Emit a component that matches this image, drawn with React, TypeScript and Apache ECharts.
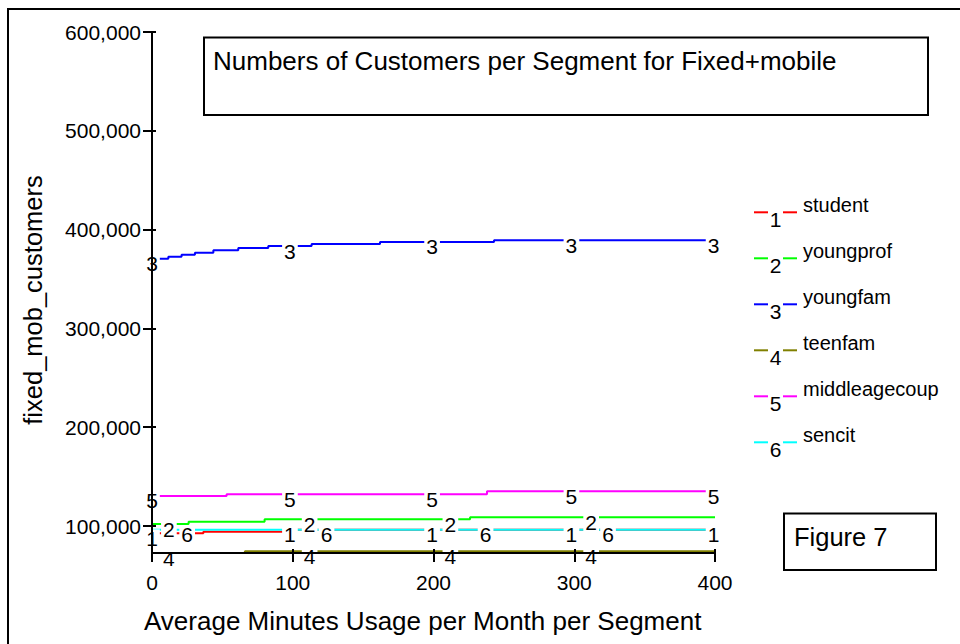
import React, { useEffect, useRef } from 'react';
import * as echarts from 'echarts';

const FONT = '"Liberation Sans", Arial, Helvetica, sans-serif';

// Segments (categories) and their line numbers / colours
const categories = ['student', 'youngprof', 'youngfam', 'teenfam', 'middleagecoup', 'sencit'];
const lineNumbers = ['1', '2', '3', '4', '5', '6'];
const colors = ['#ff0000', '#00ff00', '#0000ff', '#808000', '#ff00ff', '#00ffff'];

// Series values (x = average minutes usage, y = customers), step curves
const studentX = [0, 36.5, 97, 400];
const studentY = [92600, 94200, 96200, 96200];
const youngprofX = [0, 26, 80, 226, 400];
const youngprofY = [102000, 104400, 106900, 108800, 108800];
const youngfamX = [0, 11.6, 21, 30.5, 43.6, 61.3, 82.6, 113.4, 162, 243, 400];
const youngfamY = [370500, 372600, 374600, 376600, 379000, 381400, 383400, 385400, 387500, 389200, 389200];
const teenfamX = [0, 66, 400];
const teenfamY = [72000, 74500, 74500];
const middleageX = [0, 53, 238, 400];
const middleageY = [130400, 132100, 135100, 135100];
const sencitX = [0, 400];
const sencitY = [96300, 96300];

// Where the line-number labels sit along the x axis
const labelXa = [0, 98, 199, 298, 399];
const labelXb = [12, 112, 212, 312];
const labelXc = [25, 124, 237, 324];

// Axis ticks
const yTicks = [100000, 200000, 300000, 400000, 500000, 600000];
const yMin = 72700;
const yMax = 600000;

const seriesX = [studentX, youngprofX, youngfamX, teenfamX, middleageX, sencitX];
const seriesY = [studentY, youngprofY, youngfamY, teenfamY, middleageY, sencitY];
const seriesLabelX = [labelXa, labelXb, labelXa, labelXb, labelXa, labelXc];

function valueAt(xs: number[], ys: number[], x: number): number {
  let v = ys[0];
  for (let i = 0; i < xs.length; i++) {
    if (xs[i] <= x) v = ys[i];
  }
  return v;
}

function buildOption(): any {
  const axisLineStyle = { color: '#000', width: 2 };
  const lineSeries = categories.map((name, i) => ({
    name,
    type: 'line',
    xAxisIndex: 0,
    yAxisIndex: 0,
    step: 'end',
    symbol: 'none',
    showSymbol: false,
    data: seriesX[i].map((x, j) => [x, seriesY[i][j]]),
    lineStyle: { color: colors[i], width: 2 },
    itemStyle: { color: colors[i] },
    z: 2,
    silent: true,
  }));
  const labelSeries = categories.map((name, i) => ({
    name: name + '_labels',
    type: 'scatter',
    xAxisIndex: 0,
    yAxisIndex: 0,
    clip: false,
    symbol: 'circle',
    symbolSize: 1,
    itemStyle: { color: 'transparent', opacity: 1 },
    data: seriesLabelX[i].map((x) => [x, valueAt(seriesX[i], seriesY[i], x)]),
    label: {
      show: true,
      position: 'inside',
      offset: [0, 5],
      formatter: lineNumbers[i],
      color: '#000',
      opacity: 1,
      fontSize: 21,
      fontFamily: FONT,
      backgroundColor: '#fff',
      padding: [0, 2],
      lineHeight: 18,
    },
    z: 3,
    silent: true,
  }));

  const graphic: any[] = [];
  // outer frame
  graphic.push({
    type: 'rect',
    shape: { x: 8, y: 9, width: 1200, height: 1000 },
    style: { fill: 'none', stroke: '#000', lineWidth: 2 },
  });
  // title box
  graphic.push({
    type: 'rect',
    shape: { x: 204, y: 37.5, width: 724, height: 77.5 },
    style: { fill: 'none', stroke: '#000', lineWidth: 2 },
  });
  graphic.push({
    type: 'text',
    x: 213,
    y: 61,
    style: {
      text: 'Numbers of Customers per Segment for Fixed+mobile',
      font: '26px ' + FONT,
      fill: '#000',
      align: 'left',
      verticalAlign: 'middle',
    },
  });
  // figure box
  graphic.push({
    type: 'rect',
    shape: { x: 784, y: 513.5, width: 152, height: 56.5 },
    style: { fill: 'none', stroke: '#000', lineWidth: 2 },
  });
  graphic.push({
    type: 'text',
    x: 794,
    y: 537,
    style: { text: 'Figure 7', font: '25.5px ' + FONT, fill: '#000', align: 'left', verticalAlign: 'middle' },
  });
  // axis names
  graphic.push({
    type: 'text',
    x: 144,
    y: 621,
    style: {
      text: 'Average Minutes Usage per Month per Segment',
      font: '26px ' + FONT,
      fill: '#000',
      align: 'left',
      verticalAlign: 'middle',
    },
  });
  graphic.push({
    type: 'text',
    x: 33,
    y: 300,
    rotation: Math.PI / 2,
    style: {
      text: 'fixed_mob_customers',
      font: '25.5px ' + FONT,
      fill: '#000',
      align: 'center',
      verticalAlign: 'middle',
    },
  });
  // legend
  categories.forEach((name, i) => {
    const rowY = 212.3 + 46 * i;
    graphic.push({
      type: 'line',
      shape: { x1: 754, y1: rowY, x2: 768, y2: rowY },
      style: { stroke: colors[i], lineWidth: 2 },
    });
    graphic.push({
      type: 'line',
      shape: { x1: 783, y1: rowY, x2: 797, y2: rowY },
      style: { stroke: colors[i], lineWidth: 2 },
    });
    graphic.push({
      type: 'text',
      x: 775.5,
      y: rowY + 7,
      style: { text: lineNumbers[i], font: '21px ' + FONT, fill: '#000', align: 'center', verticalAlign: 'middle' },
    });
    graphic.push({
      type: 'text',
      x: 803,
      y: rowY - 7,
      style: { text: name, font: '20px ' + FONT, fill: '#000', align: 'left', verticalAlign: 'middle' },
    });
  });

  return {
    animation: false,
    backgroundColor: '#fff',
    textStyle: { fontFamily: FONT },
    grid: { left: 152, top: 32, width: 563, height: 521, containLabel: false },
    xAxis: [
      {
        type: 'value',
        gridIndex: 0,
        position: 'bottom',
        min: 0,
        max: 400,
        interval: 100,
        z: 5,
        axisLine: { show: true, onZero: false, lineStyle: axisLineStyle },
        axisTick: { show: true, length: 9, lineStyle: axisLineStyle },
        axisLabel: { color: '#000', fontSize: 21, fontFamily: FONT, margin: 19 },
        splitLine: { show: false },
      },
      {
        type: 'value',
        gridIndex: 0,
        position: 'bottom',
        min: 0,
        max: 400,
        interval: 100,
        z: 5,
        axisLine: { show: false },
        axisTick: { show: true, inside: true, length: 4, lineStyle: axisLineStyle },
        axisLabel: { show: false },
        splitLine: { show: false },
      },
    ],
    yAxis: [
      {
        type: 'value',
        gridIndex: 0,
        position: 'left',
        min: yMin,
        max: yMax,
        z: 5,
        axisLine: { show: true, onZero: false, lineStyle: axisLineStyle },
        axisTick: { show: true, length: 9, customValues: yTicks, lineStyle: axisLineStyle },
        axisLabel: {
          color: '#000',
          fontSize: 21,
          fontFamily: FONT,
          margin: 11,
          customValues: yTicks,
          formatter: (v: number) => v.toLocaleString('en-US'),
        },
        splitLine: { show: false },
      },
      {
        type: 'value',
        gridIndex: 0,
        position: 'left',
        min: yMin,
        max: yMax,
        z: 5,
        axisLine: { show: false },
        axisTick: { show: true, inside: true, length: 4, customValues: yTicks, lineStyle: axisLineStyle },
        axisLabel: { show: false, customValues: yTicks },
        splitLine: { show: false },
      },
    ],
    series: [...lineSeries, ...labelSeries],
    graphic,
  };
}

export default function App() {
  const ref = useRef<HTMLDivElement>(null);
  useEffect(() => {
    if (!ref.current) return;
    const chart = echarts.init(ref.current, null, { renderer: 'svg' });
    chart.setOption(buildOption());
    return () => chart.dispose();
  }, []);
  return (
    <div
      ref={ref}
      style={{ position: 'fixed', left: 0, top: 0, width: 960, height: 644, background: '#fff' }}
    />
  );
}
